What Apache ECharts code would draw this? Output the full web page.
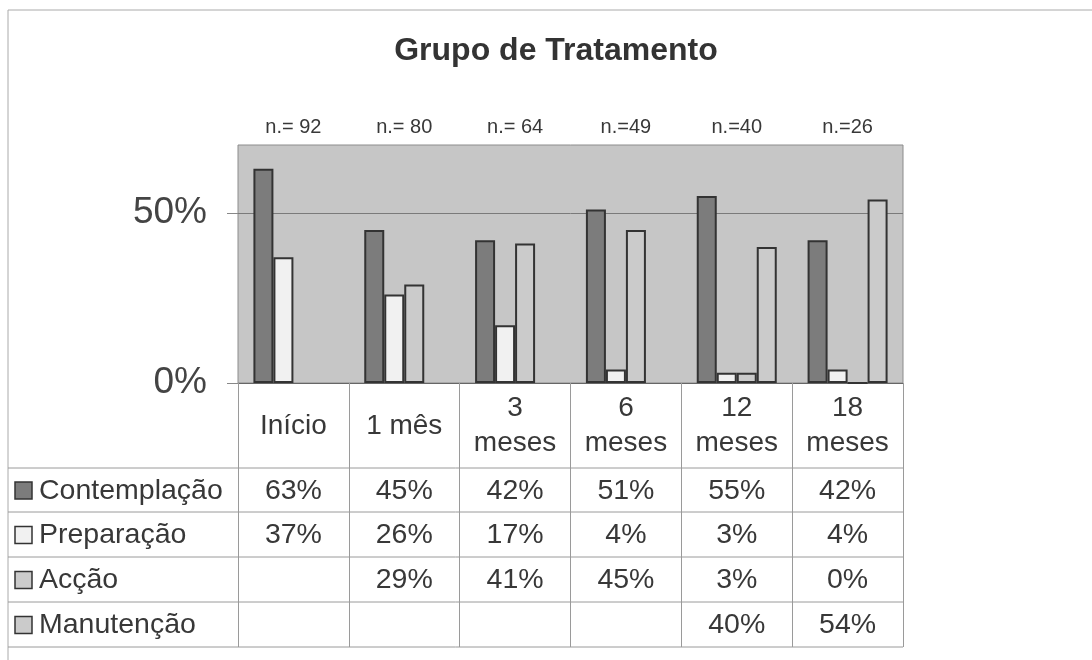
<!DOCTYPE html>
<html>
<head>
<meta charset="utf-8">
<script src="https://cdn.jsdelivr.net/npm/echarts@6/dist/echarts.min.js"></script>
<style>
  html, body { margin: 0; padding: 0; background: #ffffff; }
  #chart { width: 1092px; height: 660px; }
</style>
</head>
<body>
<div id="chart"></div>
<script>
const titleText = 'Grupo de Tratamento';
const categories = ['Início', '1 mês', '3\nmeses', '6\nmeses', '12\nmeses', '18\nmeses'];
const sampleSizes = ['n.= 92', 'n.= 80', 'n.= 64', 'n.=49', 'n.=40', 'n.=26'];
const seriesNames = ['Contemplação', 'Preparação', 'Acção', 'Manutenção'];
const contemplacao = [63, 45, 42, 51, 55, 42];
const preparacao = [37, 26, 17, 4, 3, 4];
const accao = [null, 29, 41, 45, 3, 0];
const manutencao = [null, null, null, null, 40, 54];
const yTickValues = [0, 50];

const seriesData = [contemplacao, preparacao, accao, manutencao];
const colors = ['#7c7c7c', '#f1f1f1', '#cbcbcb', '#cbcbcb'];
const FONT = "'Liberation Sans', Arial, Helvetica, sans-serif";
const TXT = '#383838';

const chart = echarts.init(document.getElementById('chart'), null, { renderer: 'canvas' });

const gridLeft = 238, gridRight = 903, gridTop = 145, gridBottom = 383;
const rowLines = [468, 512, 557, 602, 647];

chart.setOption({
  animation: false,
  backgroundColor: '#ffffff',
  textStyle: { fontFamily: FONT },
  grid: {
    left: gridLeft, top: gridTop, width: gridRight - gridLeft, height: gridBottom - gridTop,
    show: true, backgroundColor: '#c6c6c6', borderColor: '#8c8c8c', borderWidth: 1,
    containLabel: false
  },
  xAxis: [
    {
      type: 'category', data: categories, position: 'bottom',
      axisLine: { show: true, lineStyle: { color: '#666', width: 1 } },
      axisTick: { show: true, inside: false, length: rowLines[rowLines.length - 1] - gridBottom, lineStyle: { color: '#9a9a9a', width: 1 } },
      axisLabel: {
        margin: 43, verticalAlign: 'middle', fontSize: 28, lineHeight: 35,
        color: TXT, fontFamily: FONT, interval: 0
      },
      splitLine: { show: false }
    },
    {
      type: 'category', data: sampleSizes, position: 'top',
      axisLine: { show: false }, axisTick: { show: false },
      axisLabel: { margin: 8, fontSize: 20, color: TXT, fontFamily: FONT, interval: 0 },
      splitLine: { show: false }
    }
  ],
  yAxis: {
    type: 'value', min: 0, max: 70, interval: 50,
    axisLine: { show: false },
    axisTick: { show: true, inside: false, length: 11, lineStyle: { color: '#888' }, customValues: yTickValues },
    axisLabel: {
      margin: 31, fontSize: 37, color: '#444', fontFamily: FONT,
      customValues: yTickValues,
      formatter: function (v) { return v + '%'; }
    },
    splitLine: { show: true, lineStyle: { color: '#7a7a7a', width: 1 } }
  },
  series: seriesData.map(function (d, i) {
    return {
      name: seriesNames[i], type: 'bar', xAxisIndex: 0, data: d,
      barWidth: 20, barGap: '0%',
      itemStyle: { color: colors[i], borderColor: '#333', borderWidth: 2 }
    };
  })
});

function buildGraphics() {
  const els = [];
  els.push({ type: 'line', shape: { x1: 8, y1: 10, x2: 1092, y2: 10 }, style: { stroke: '#aaa', lineWidth: 1 }, silent: true });
  els.push({ type: 'line', shape: { x1: 8, y1: 10, x2: 8, y2: 660 }, style: { stroke: '#aaa', lineWidth: 1 }, silent: true });
  els.push({
    type: 'text', x: 556, y: 51,
    style: { text: titleText, font: 'bold 32px ' + FONT, fill: '#333', align: 'center', verticalAlign: 'middle' },
    silent: true
  });
  rowLines.forEach(function (y) {
    els.push({ type: 'line', shape: { x1: 8, y1: y, x2: gridRight, y2: y }, style: { stroke: '#9a9a9a', lineWidth: 1 }, silent: true });
  });
  seriesData.forEach(function (d, r) {
    const yMid = (rowLines[r] + rowLines[r + 1]) / 2;
    els.push({
      type: 'rect', shape: { x: 15, y: yMid - 8, width: 17, height: 17 },
      style: { fill: colors[r], stroke: '#333', lineWidth: 1.5 }, silent: true
    });
    els.push({
      type: 'text', x: 39, y: yMid + 1,
      style: { text: seriesNames[r], font: '28.5px ' + FONT, fill: TXT, align: 'left', verticalAlign: 'middle' },
      silent: true
    });
    d.forEach(function (v, c) {
      if (v === null || v === undefined) return;
      const px = chart.convertToPixel({ xAxisIndex: 0 }, c);
      els.push({
        type: 'text', x: px, y: yMid + 1,
        style: { text: v + '%', font: '28.5px ' + FONT, fill: TXT, align: 'center', verticalAlign: 'middle' },
        silent: true
      });
    });
  });
  return els;
}

chart.setOption({ graphic: { elements: buildGraphics() } });
</script>
</body>
</html>
